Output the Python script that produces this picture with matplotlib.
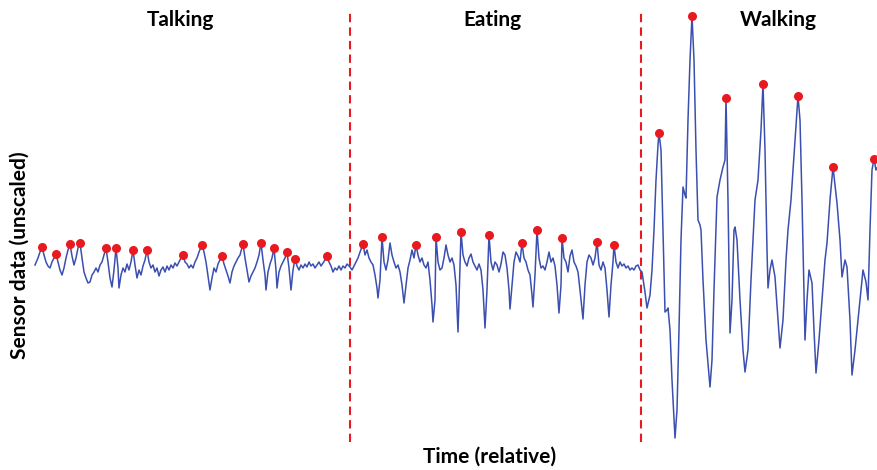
import numpy as np
import matplotlib
matplotlib.use("Agg")
import matplotlib.pyplot as plt

plt.rcParams['font.family'] = ['Lato', 'DejaVu Sans']

# sensor trace (time is relative, value unscaled)
t_talk = [35, 38, 40, 42, 44, 46, 48, 50, 52, 54, 56, 58, 60, 62, 64, 66, 68, 70, 72, 74,
          76, 78, 80, 82, 84, 86, 88, 90, 92, 94, 96, 98, 100, 102, 104, 106, 108, 110, 112, 114,
          116, 118, 119, 121, 123, 125, 127, 129, 131, 133, 135, 137, 139, 141, 143, 145, 147, 149, 151, 153,
          155, 157, 159, 161, 163, 165, 167, 169, 171, 173, 175, 177, 179, 181, 183, 185, 187, 189, 191, 193,
          195, 197, 199, 202, 204, 206, 208, 210, 212, 214, 216, 218, 220, 222, 224, 226, 228, 230, 232, 234,
          236, 238, 240, 243, 245, 247, 249, 251, 253, 255, 257, 259, 261, 263, 265, 266, 268, 270, 272, 274,
          276, 277, 279, 281, 283, 285, 287, 289, 291, 293, 295, 297, 299, 301, 303, 305, 307, 309, 311, 313,
          315, 317, 319, 321, 323, 325, 327, 329, 331, 333, 335, 337, 339, 341, 343, 345, 347]
v_talk = [205, 212, 218, 223, 215, 208, 204, 202, 208, 212, 216, 208, 200, 195, 202, 212, 220, 226, 214, 205,
          212, 222, 227, 212, 198, 192, 187, 188, 195, 198, 202, 198, 205, 208, 215, 222, 208, 192, 183, 200,
          222, 202, 182, 195, 202, 198, 206, 200, 208, 220, 205, 192, 200, 195, 204, 210, 220, 208, 202, 205,
          198, 202, 194, 200, 203, 198, 204, 200, 205, 202, 207, 204, 208, 212, 215, 208, 206, 202, 205, 202,
          208, 212, 218, 225, 218, 208, 194, 180, 192, 202, 198, 206, 210, 214, 206, 200, 194, 187, 198, 204,
          208, 212, 215, 226, 212, 200, 188, 194, 198, 202, 208, 215, 227, 210, 195, 180, 198, 206, 212, 222,
          200, 182, 198, 204, 208, 212, 218, 202, 180, 200, 211, 204, 200, 205, 202, 206, 203, 208, 204, 206,
          202, 205, 208, 204, 207, 210, 214, 208, 204, 198, 202, 200, 204, 200, 204, 202, 206]

t_eat = [350, 352, 354, 356, 358, 360, 363, 365, 367, 369, 371, 373, 375, 377, 378, 380, 382, 384, 386, 388,
         390, 392, 394, 396, 398, 400, 402, 404, 406, 408, 410, 412, 414, 416, 418, 420, 422, 424, 426, 428,
         430, 432, 433, 435, 436, 438, 440, 442, 444, 446, 448, 450, 452, 454, 456, 458, 459, 461, 463, 465,
         467, 469, 471, 473, 475, 477, 479, 481, 483, 485, 487, 489, 491, 493, 495, 497, 499, 501, 503, 505,
         507, 509, 510, 512, 514, 516, 518, 520, 522, 524, 526, 528, 530, 532, 533, 535, 537, 539, 541, 543,
         545, 547, 549, 551, 553, 555, 557, 559, 561, 562, 564, 566, 568, 570, 572, 574, 576, 578, 580, 583,
         585, 587, 589, 591, 593, 595, 597, 599, 601, 603, 605, 607, 609, 611, 613, 614, 616, 618, 620, 622,
         624, 626, 628, 630, 632, 634, 636, 638, 640]
v_eat = [203, 200, 204, 208, 212, 218, 226, 215, 220, 212, 208, 205, 195, 182, 172, 190, 233, 208, 200, 210,
         227, 215, 208, 202, 205, 198, 185, 167, 185, 202, 210, 220, 212, 225, 215, 208, 212, 205, 202, 208,
         190, 165, 148, 170, 233, 208, 200, 202, 212, 225, 215, 208, 212, 205, 185, 138, 170, 238, 215, 208,
         204, 212, 216, 208, 204, 200, 206, 200, 180, 142, 180, 235, 208, 200, 208, 205, 198, 206, 218, 215,
         202, 180, 161, 185, 208, 218, 214, 208, 227, 212, 208, 200, 195, 175, 163, 195, 240, 212, 202, 204,
         200, 208, 218, 208, 212, 204, 185, 157, 185, 232, 212, 208, 198, 214, 220, 208, 204, 198, 180, 151,
         185, 208, 215, 212, 205, 212, 228, 205, 200, 208, 202, 180, 153, 185, 208, 225, 208, 202, 208, 204,
         206, 202, 204, 200, 202, 200, 204, 205, 200]

t_walk = [642, 645, 647, 650, 652, 654, 656, 658, 659, 661, 663, 665, 667, 668, 670, 672, 675, 677, 679, 681,
          683, 685, 686, 688, 690, 692, 694, 696, 698, 700, 701, 703, 706, 710, 712, 714, 717, 720, 723, 725,
          726, 728, 730, 732, 734, 735, 737, 740, 743, 745, 748, 751, 755, 758, 761, 763, 765, 767, 768, 770,
          772, 775, 778, 780, 783, 786, 788, 791, 795, 798, 800, 802, 805, 807, 809, 812, 814, 816, 819, 822,
          825, 827, 830, 833, 835, 837, 840, 842, 845, 847, 850, 852, 855, 858, 861, 863, 866, 868, 870, 872,
          874, 876, 877]
v_walk = [198, 178, 162, 175, 200, 240, 290, 325, 337, 320, 240, 158, 160, 162, 140, 90, 32, 60, 140, 230,
          283, 275, 272, 350, 410, 454, 410, 320, 250, 245, 240, 190, 130, 83, 110, 180, 273, 290, 303, 310,
          372, 270, 137, 170, 240, 243, 230, 170, 120, 98, 120, 190, 270, 290, 340, 386, 320, 220, 182, 200,
          210, 193, 150, 122, 150, 210, 240, 270, 330, 374, 350, 270, 130, 170, 200, 187, 140, 97, 130, 170,
          210, 227, 270, 303, 285, 267, 230, 193, 210, 203, 150, 95, 120, 150, 180, 200, 188, 170, 240, 300,
          311, 300, 302]

# detected peaks (red dots)
peak_t = [42, 56, 70, 80, 106, 116, 133, 147, 183, 202, 222, 243, 261, 274, 287, 295, 327,
          363, 382, 416, 436, 461, 489, 522, 537, 562, 597, 614,
          659, 692, 726, 763, 798, 833, 874]
peak_v = [223, 216, 226, 227, 222, 222, 220, 220, 215, 225, 214, 226, 227, 222, 218, 211, 214,
          226, 233, 225, 233, 238, 235, 227, 240, 232, 228, 225,
          337, 454, 372, 386, 374, 303, 311]

boundaries = [350, 641]
activities = ["Talking", "Eating", "Walking"]
activity_t = [180, 492, 778]

t = t_talk + t_eat + t_walk
v = v_talk + v_eat + v_walk

fig = plt.figure(figsize=(8.77, 4.70), dpi=100)
ax = fig.add_axes([0, 0, 1, 1])
ax.set_xlim(0, 877)
ax.set_ylim(0, 470)
ax.axis('off')

ax.plot(t, v, color='#3b4fb0', lw=1.1)
ax.plot(peak_t, peak_v, 'o', color='#e8191f', ms=6.5, mec='none', zorder=3)

for b in boundaries:
    ax.vlines(b, 28, 458, colors='#e8191f', lw=1.5, linestyles=(0, (4, 2.5)))

for name, x in zip(activities, activity_t):
    ax.text(x, 450, name, ha='center', va='center', fontsize=15, fontweight='bold')

fig.text(490 / 877, 1 - 457 / 470, "Time (relative)", ha='center', va='center',
         fontsize=15, fontweight='bold')
fig.text(20 / 877, 1 - 255 / 470, "Sensor data (unscaled)", ha='center', va='center',
         rotation=90, fontsize=15, fontweight='bold')

fig.savefig('out.png', dpi=100)
